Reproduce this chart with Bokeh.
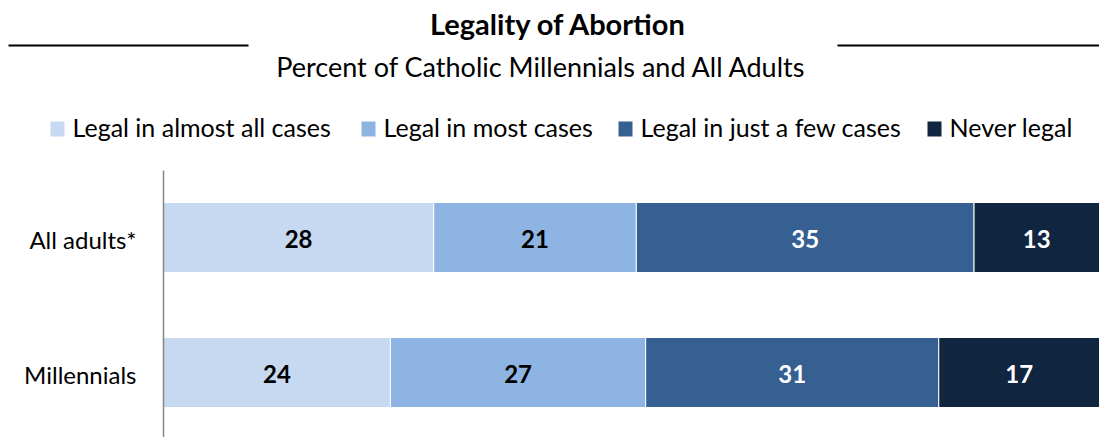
from bokeh.plotting import figure
from bokeh.models import Range1d, ColumnDataSource
from bokeh.core.properties import value
from bokeh.embed import file_html
from bokeh.resources import INLINE

# ---- data ----
categories = ["Millennials", "All adults*"]          # bottom to top
series = ["Legal in almost all cases", "Legal in most cases",
          "Legal in just a few cases", "Never legal"]
legal_almost_all = [24, 28]
legal_most = [27, 21]
legal_few = [31, 35]
never_legal = [17, 13]
values = [legal_almost_all, legal_most, legal_few, never_legal]

title_text = "Legality of Abortion"
subtitle_text = "Percent of Catholic Millennials and All Adults"

# ---- styles / layout ----
colors = ["#C6D9F1", "#8EB4E3", "#376092", "#10253F"]
label_colors = ["#000000", "#000000", "#FFFFFF", "#FFFFFF"]
FONT = "Lato"
W, H = 1099, 437
X0, PXX = 163, 936      # pixel of x=0, pixels per unit (100%)
Y0, PXY = 372, 135      # pixel of first category centre, pixels per category


def dx(px):
    return (px - X0) / PXX


def dy(py):
    return (Y0 - py) / PXY


p = figure(width=W, height=H, x_range=Range1d(dx(0), dx(W)),
           y_range=Range1d(dy(H), dy(0)), x_axis_type=None, y_axis_type=None,
           output_backend="svg", toolbar_location=None, min_border=0)
p.grid.visible = False
p.outline_line_color = None
p.background_fill_color = "white"
p.border_fill_color = "white"

# ---- stacked bars (each row normalised to 100%) ----
ys = list(range(len(categories)))
totals = [sum(v[i] for v in values) for i in ys]
cum = [0.0] * len(categories)
bar_h = 70 / PXY
for k, name in enumerate(series):
    left = [cum[i] for i in ys]
    right = [cum[i] + values[k][i] / totals[i] for i in ys]
    cum = right
    src = ColumnDataSource(dict(y=ys, left=left, right=right,
                                mid=[(l + r) / 2 for l, r in zip(left, right)],
                                lab=[str(v) for v in values[k]]))
    p.hbar(y="y", left="left", right="right", height=bar_h, source=src,
           fill_color=colors[k], line_color="#FFFFFF", line_width=1)
    p.text(x="mid", y="y", text="lab", source=src, text_align="center",
           text_baseline="alphabetic", y_offset=1, text_font=value(FONT),
           text_font_style="bold", text_font_size="24px",
           text_color=label_colors[k])

# ---- category labels + axis line ----
p.text(x=[dx(136)] * len(categories), y=ys, text=categories, text_align="right",
       text_baseline="alphabetic", y_offset=2, text_font=value(FONT),
       text_font_size="24px", text_color="#000000")
p.segment(x0=[0], y0=[dy(170)], x1=[0], y1=[dy(H)], line_color="#868686",
          line_width=1.5)

# ---- title, rules, subtitle ----
p.text(x=[dx(558)], y=[dy(23)], text=[title_text], text_align="center",
       text_baseline="alphabetic", text_font=value(FONT), text_font_style="bold",
       text_font_size="29px", text_color="#000000")
p.segment(x0=[dx(8), dx(837)], y0=[dy(45), dy(45)], x1=[dx(248), dx(W)],
          y1=[dy(45), dy(45)], line_color="#000000", line_width=2)
p.text(x=[dx(541)], y=[dy(66)], text=[subtitle_text], text_align="center",
       text_baseline="alphabetic", text_font=value(FONT), text_font_size="27px",
       text_color="#000000")

# ---- legend ----
sq_x = [50, 361, 618, 927]
for k, name in enumerate(series):
    p.rect(x=[dx(sq_x[k] + 7)], y=[dy(128.5)], width=14 / PXX, height=15 / PXY,
           fill_color=colors[k], line_color=None)
    p.text(x=[dx(sq_x[k] + 22)], y=[dy(126)], text=[name], text_align="left",
           text_baseline="alphabetic", text_font=value(FONT),
           text_font_size="25px", text_color="#000000")

open("out.html", "w").write(file_html(p, INLINE))
